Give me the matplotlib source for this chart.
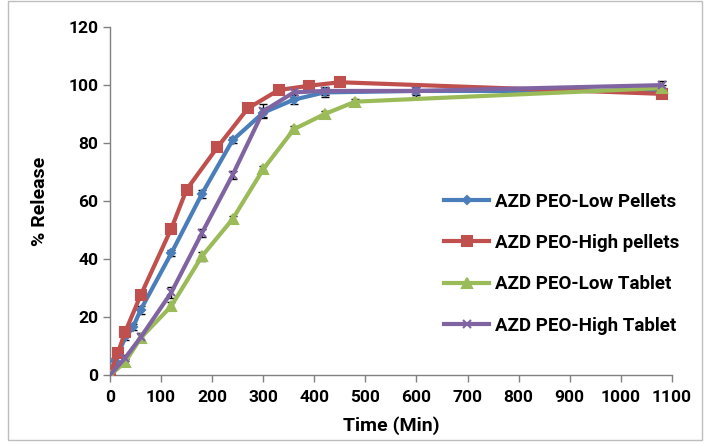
import numpy as np
import matplotlib.pyplot as plt
from matplotlib.patches import Rectangle

plt.rcParams["font.family"] = ["Roboto", "DejaVu Sans"]

# time points (min) and % release for each formulation
t_low_pel = [0, 10, 30, 45, 60, 120, 180, 240, 300, 360, 420, 600, 1080]
low_pel = [0, 5, 13, 16.5, 22.5, 42, 62.5, 81, 90.5, 95, 97.5, 98, 98]
err_low_pel = [0, 1, 1, 1, 1.5, 1, 1.5, 1, 1.5, 1.5, 1.5, 1.5, 1]

t_high_pel = [0, 15, 30, 60, 120, 150, 210, 270, 330, 390, 450, 1080]
high_pel = [0, 7.5, 15, 27.5, 50.5, 64, 78.5, 92, 98.3, 99.8, 101, 97]
err_high_pel = [0, 1, 1, 1, 1, 1, 1, 1, 1, 1, 1, 1]

t_low_tab = [0, 30, 60, 120, 180, 240, 300, 360, 420, 480, 1080]
low_tab = [0, 4.5, 12.8, 23.8, 41, 53.8, 71, 84.8, 90, 94.3, 99]
err_low_tab = [0, 1, 1.5, 1.5, 1.5, 1, 1, 1, 1, 1, 1]

t_high_tab = [0, 30, 60, 120, 180, 240, 300, 360, 420, 600, 1080]
high_tab = [0, 6, 13, 28.5, 49, 69, 91, 97.5, 98, 98, 100]
err_high_tab = [0, 1, 1.5, 2, 1.5, 1.5, 2.5, 1.5, 1.5, 2, 1.5]

fig = plt.figure(figsize=(7.05, 4.45), dpi=100)
ax = fig.add_axes([0.156, 0.157, 0.797, 0.782])

# outer chart frame
fig.patches.append(Rectangle((0.011, 0.012), 0.985, 0.985, transform=fig.transFigure,
                             fill=False, edgecolor="#bdbdbd", linewidth=1))

series = [
    (t_low_pel, low_pel, err_low_pel, "#4a7ebb", "D", 4.5, "AZD PEO-Low Pellets"),
    (t_high_pel, high_pel, err_high_pel, "#c0504d", "s", 7, "AZD PEO-High pellets"),
    (t_low_tab, low_tab, err_low_tab, "#9bbb59", "^", 6.5, "AZD PEO-Low Tablet"),
    (t_high_tab, high_tab, err_high_tab, "#8064a2", "x", 6, "AZD PEO-High Tablet"),
]

for t, y, e, c, m, ms, lab in series:
    ax.errorbar(t, y, yerr=e, fmt="none", ecolor="black", elinewidth=1,
                capsize=3, zorder=2)
    ax.plot(t, y, color=c, linewidth=3, marker=m, markersize=ms,
            markeredgewidth=1.5, label=lab, zorder=3)

ax.set_xlim(0, 1100)
ax.set_ylim(0, 120)
ax.set_xticks(range(0, 1101, 100))
ax.set_yticks(range(0, 121, 20))
ax.tick_params(axis="both", labelsize=12.5, direction="out", length=5, width=1,
               color="#808080")
ax.tick_params(axis="x", pad=6)
for lbl in ax.get_xticklabels() + ax.get_yticklabels():
    lbl.set_fontweight("bold")

ax.spines["top"].set_visible(False)
ax.spines["right"].set_visible(False)
ax.spines["left"].set_color("#808080")
ax.spines["bottom"].set_color("#808080")
ax.spines["left"].set_linewidth(1)
ax.spines["bottom"].set_linewidth(1)

ax.set_xlabel("Time (Min)", fontsize=14, fontweight="bold", labelpad=8)
ax.set_ylabel("% Release", fontsize=14, fontweight="bold", labelpad=14)

leg = ax.legend(loc="center left", bbox_to_anchor=(0.565, 0.32), frameon=False,
                prop={"weight": "bold", "size": 13.5}, handlelength=2.4,
                labelspacing=1.25, handletextpad=0.3)

fig.savefig("out.png", dpi=100)
